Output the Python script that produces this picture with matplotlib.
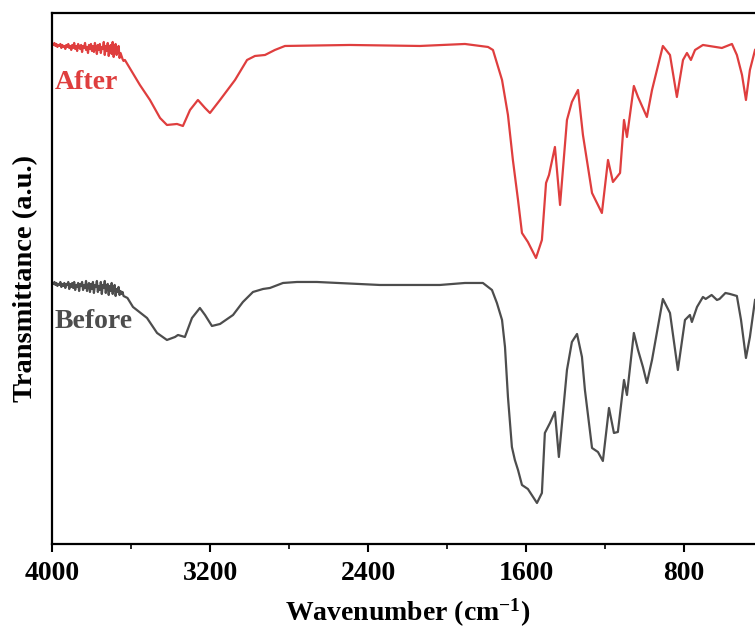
import matplotlib
matplotlib.use("Agg")
import matplotlib.pyplot as plt
from matplotlib.ticker import MultipleLocator

plt.rcParams['font.family'] = ['Liberation Serif', 'DejaVu Serif']
plt.rcParams['font.weight'] = 'bold'
plt.rcParams['mathtext.fontset'] = 'custom'
plt.rcParams['mathtext.rm'] = 'Liberation Serif:bold'
plt.rcParams['mathtext.bf'] = 'Liberation Serif:bold'
plt.rcParams['mathtext.default'] = 'bf'

# ---- data (wavenumber in cm^-1, transmittance in a.u.) ----
# noisy high-wavenumber region, sampled every 5 cm^-1 from 4000 to 3640
noise_wn = list(range(4000, 3639, -5))
after_noise_t = [500, 499, 501, 498, 500, 497, 499, 498, 500, 496,
                 499, 497, 498, 495, 499, 497, 500, 496, 498, 494,
                 499, 496, 501, 495, 498, 493, 500, 497, 495, 499,
                 492, 498, 496, 501, 494, 497, 491, 499, 495, 500,
                 493, 498, 492, 501, 496, 490, 499, 494, 500, 491,
                 497, 495, 502, 489, 498, 493, 501, 488, 496, 499,
                 490, 502, 487, 495, 500, 489, 493, 498, 486, 491,
                 488, 485, 483]
before_noise_t = [261, 260, 262, 259, 261, 258, 260, 259, 262, 257,
                  260, 258, 261, 256, 260, 259, 262, 255, 260, 257,
                  261, 256, 262, 254, 259, 257, 261, 253, 260, 258,
                  262, 254, 259, 256, 263, 253, 258, 261, 252, 260,
                  255, 262, 251, 259, 257, 263, 252, 258, 254, 262,
                  250, 259, 256, 263, 251, 257, 260, 249, 258, 253,
                  261, 250, 256, 259, 248, 255, 252, 257, 249, 253,
                  250, 252, 248]

after_wn = [3633, 3557, 3506, 3455, 3420, 3369, 3339, 3303, 3263, 3227, 3202, 3151, 3075, 3014,
            2974, 2923, 2873, 2822, 2493, 2138, 1910, 1793, 1768, 1722, 1692, 1667, 1641, 1621,
            1591, 1550, 1520, 1499, 1484, 1454, 1428, 1393, 1368, 1337, 1312, 1266, 1216, 1185,
            1160, 1124, 1104, 1089, 1054, 1033, 988, 962, 907, 871, 836, 805, 785, 765, 744, 704,
            608, 557, 532, 506, 486, 466, 440]
after_t = [484, 459, 444, 426, 419, 420, 418, 434, 444, 436, 431, 444, 464, 484,
           488, 489, 494, 498, 499, 498, 500, 497, 494, 464, 429, 384, 344, 311,
           302, 286, 304, 361, 369, 397, 339, 424, 442, 454, 409, 351, 331, 384,
           362, 371, 424, 407, 458, 447, 427, 454, 498, 489, 447, 484, 491, 484, 494, 499,
           496, 500, 489, 469, 444, 474, 494]

before_wn = [3620, 3592, 3521, 3470, 3420, 3379, 3364, 3329, 3293, 3253, 3227, 3192, 3151, 3085, 3035,
             2984, 2933, 2898, 2832, 2761, 2660, 2341, 2037, 1910, 1819, 1773, 1748, 1722, 1707,
             1692, 1672, 1657, 1641, 1621, 1591, 1545, 1520, 1505, 1479, 1454, 1434, 1393, 1368,
             1342, 1317, 1302, 1266, 1236, 1211, 1180, 1155, 1135, 1104, 1089, 1054, 1033, 1008,
             988, 962, 907, 871, 831, 795, 770, 760, 734, 704, 690, 660, 633, 620, 590, 567,
             532, 511, 486, 466, 440]
before_t = [246, 237, 226, 211, 204, 207, 209, 207, 226, 236, 229, 218, 220, 229, 242,
            252, 255, 256, 261, 262, 262, 259, 259, 261, 261, 254, 241, 224, 197,
            147, 97, 84, 74, 59, 55, 41, 51, 111, 121, 132, 87, 174, 202,
            210, 187, 154, 96, 92, 83, 136, 111, 112, 164, 149, 211, 194, 177,
            161, 184, 245, 231, 174, 224, 229, 222, 237, 247, 245, 249, 244, 245, 251, 250,
            248, 224, 186, 207, 244]

xticks = [4000, 3200, 2400, 1600, 800]
labels = ["After", "Before"]
colors = ["#DF3E3E", "#4D4D4D"]

fig = plt.figure(figsize=(7.55, 6.39), dpi=100)
ax = fig.add_axes([0.0695, 0.1487, 0.941, 0.831])

ax.plot(noise_wn + after_wn, after_noise_t + after_t, color=colors[0], lw=1.6)
ax.plot(noise_wn + before_wn, before_noise_t + before_t, color=colors[1], lw=1.6)

ax.set_xlim(4000, 400)
ax.set_ylim(0, 531)
ax.set_xticks(xticks)
ax.set_xticklabels([str(t) for t in xticks])
ax.xaxis.set_minor_locator(MultipleLocator(400))
ax.set_yticks([])
ax.tick_params(axis='x', which='major', direction='out', length=6, width=1.5,
               labelsize=20, pad=6)
ax.tick_params(axis='x', which='minor', direction='out', length=3.5, width=1.2)
for lab in ax.get_xticklabels():
    lab.set_fontweight('bold')
for s in ax.spines.values():
    s.set_linewidth(1.6)

ax.set_xlabel('Wavenumber (cm$^{-1}$)', fontsize=20, fontweight='bold', labelpad=8)
ax.set_ylabel('Transmittance (a.u.)', fontsize=20.5, fontweight='bold', labelpad=10)

ax.text(3987, 461, labels[0], color=colors[0], fontsize=20, fontweight='bold',
        ha='left', va='center')
ax.text(3987, 222, labels[1], color=colors[1], fontsize=20, fontweight='bold',
        ha='left', va='center')

fig.savefig("out.png", dpi=100)
